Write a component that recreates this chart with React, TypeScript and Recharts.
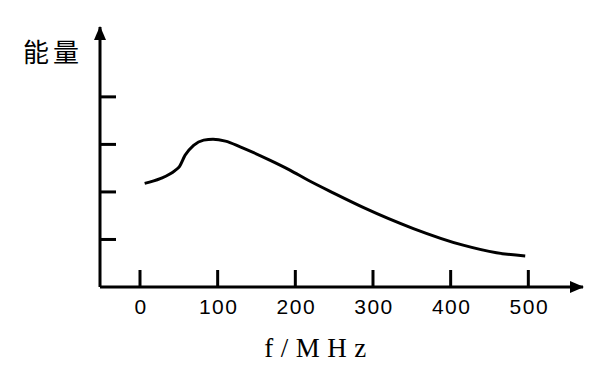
import { Line, LineChart, XAxis, YAxis } from "recharts";

// frequency in MHz and relative energy
const freq = [6, 26, 45, 51, 58, 69, 82, 94, 110, 129, 167, 193, 216, 250, 288, 352, 416, 459, 496];
const energy = [2.18, 2.28, 2.45, 2.54, 2.77, 2.98, 3.09, 3.11, 3.07, 2.95, 2.67, 2.46, 2.25, 1.97, 1.67, 1.23, 0.88, 0.72, 0.65];
const xTicks = [0, 100, 200, 300, 400, 500];
const yTicks = [1, 2, 3, 4];

const data = freq.map((f, i) => ({ f, e: energy[i] }));

function XTick({ x, y, payload }: any) {
    return (
        <g>
            <line x1={x} y1={y} x2={x} y2={y - 17} stroke="#000" strokeWidth={3} />
            <text
                x={x + 1}
                y={y + 27}
                textAnchor="middle"
                fontFamily="'Liberation Sans', Arial, sans-serif"
                fontSize={21}
                letterSpacing={1.5}
                fill="#000"
            >
                {payload.value}
            </text>
        </g>
    );
}

function YTick({ x, y }: any) {
    return <line x1={x} y1={y} x2={x + 16} y2={y} stroke="#000" strokeWidth={3} />;
}

export default function App() {
    return (
        <div style={{ position: "absolute", left: 0, top: 0, background: "#fff" }}>
            <LineChart
                width={600}
                height={391}
                data={data}
                margin={{ top: 27, right: 17, left: 99, bottom: 103 }}
            >
                <defs>
                    <marker
                        id="arrowHead"
                        viewBox="0 0 14 12"
                        refX={13}
                        refY={6}
                        markerWidth={14}
                        markerHeight={12}
                        markerUnits="userSpaceOnUse"
                        orient="auto-start-reverse"
                    >
                        <path d="M0,0 L14,6 L0,12 z" fill="#000" />
                    </marker>
                </defs>
                <XAxis
                    dataKey="f"
                    type="number"
                    domain={[-51.5, 570.4]}
                    ticks={xTicks}
                    allowDataOverflow
                    height={1}
                    tickSize={0}
                    tickMargin={0}
                    tickLine={false}
                    tick={<XTick />}
                    axisLine={{ stroke: "#000", strokeWidth: 3, markerEnd: "url(#arrowHead)" }}
                />
                <YAxis
                    type="number"
                    domain={[0, 5.47]}
                    ticks={yTicks}
                    allowDataOverflow
                    width={1}
                    tickSize={0}
                    tickMargin={0}
                    tickLine={false}
                    tick={<YTick />}
                    axisLine={{ stroke: "#000", strokeWidth: 3, markerStart: "url(#arrowHead)" }}
                />
                <Line
                    type="monotone"
                    dataKey="e"
                    stroke="#000"
                    strokeWidth={3}
                    dot={false}
                    isAnimationActive={false}
                />
                <text
                    x={23}
                    y={62}
                    fontFamily="'Noto Sans CJK SC', sans-serif"
                    fontSize={26}
                    letterSpacing={4}
                    fill="#000"
                >
                    能量
                </text>
                <text
                    x={319}
                    y={357}
                    textAnchor="middle"
                    fontFamily="'Liberation Serif', 'Times New Roman', serif"
                    fontSize={27}
                    letterSpacing={7.5}
                    fill="#000"
                >
                    f/MHz
                </text>
            </LineChart>
        </div>
    );
}
